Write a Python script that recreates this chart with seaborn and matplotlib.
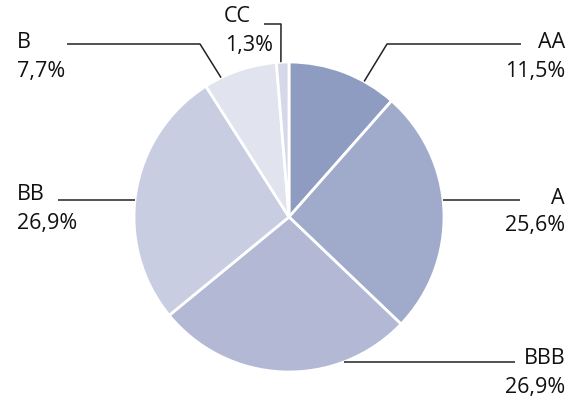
import numpy as np
import matplotlib
matplotlib.use("Agg")
import matplotlib.pyplot as plt
import seaborn as sns

categories = ["AA", "A", "BBB", "BB", "B", "CC"]
values = [11.5, 25.6, 26.9, 26.9, 7.7, 1.3]
value_labels = ["11,5%", "25,6%", "26,9%", "26,9%", "7,7%", "1,3%"]
colors = ["#8E9CC1", "#A0AACB", "#B3B9D4", "#C9CDE2", "#E1E3EF", "#D5D8E8"]

sns.set_theme(style="white")
plt.rcParams['font.family'] = ['Open Sans', 'DejaVu Sans']

W, H = 566, 401
fig = plt.figure(figsize=(W / 100, H / 100), dpi=100)
ax = fig.add_axes([0, 0, 1, 1])

cx, cy, R = 289, 217, 155
# y axis inverted -> counterclock=True draws clockwise on screen; startangle=-90 is top
wedges, _ = ax.pie(values, colors=colors, startangle=-90, counterclock=True,
                   center=(cx, cy), radius=R, frame=True,
                   wedgeprops=dict(edgecolor="white", linewidth=2))
ax.set_xlim(0, W)
ax.set_ylim(H, 0)
ax.set_aspect('equal')
ax.axis('off')

# label layout: anchor on the circle (by angle or by the row of a horizontal leader),
# elbow points, text position and alignment
layout = {
    "AA":  dict(ang=61, elbow=[(387, 44), (521, 44)], tx=565, ty=43, ha="right"),
    "A":   dict(side=1, elbow=[(520, 200)], tx=565, ty=198, ha="right"),
    "BBB": dict(side=1, elbow=[(515, 362)], tx=565, ty=359, ha="right"),
    "BB":  dict(side=-1, elbow=[(58, 200)], tx=17, ty=195, ha="left"),
    "B":   dict(ang=116, elbow=[(200, 44), (67, 44)], tx=17, ty=43, ha="left"),
    "CC":  dict(ang=93, elbow=[(281, 24), (264, 24)], tx=251, ty=17, ha="right"),
}

for cat, vl in zip(categories, value_labels):
    L = layout[cat]
    if "ang" in L:
        a = np.deg2rad(L["ang"])
        px, py = cx + R * np.cos(a), cy - R * np.sin(a)
    else:
        py = L["elbow"][0][1]
        px = cx + L["side"] * np.sqrt(R ** 2 - (py - cy) ** 2)
    pts = [(px, py)] + L["elbow"]
    xs, ys = zip(*pts)
    ax.plot(xs, ys, color="#222222", lw=1.1, solid_capstyle="butt")
    ax.text(L["tx"], L["ty"], cat, ha=L["ha"], va="center", fontsize=15.5, color="#111111")
    vx = L["tx"] + (22 if cat == "CC" else 0)
    ax.text(vx, L["ty"] + 28, vl, ha=L["ha"], va="center", fontsize=15.5, color="#111111")

fig.savefig("out.png", dpi=100)
